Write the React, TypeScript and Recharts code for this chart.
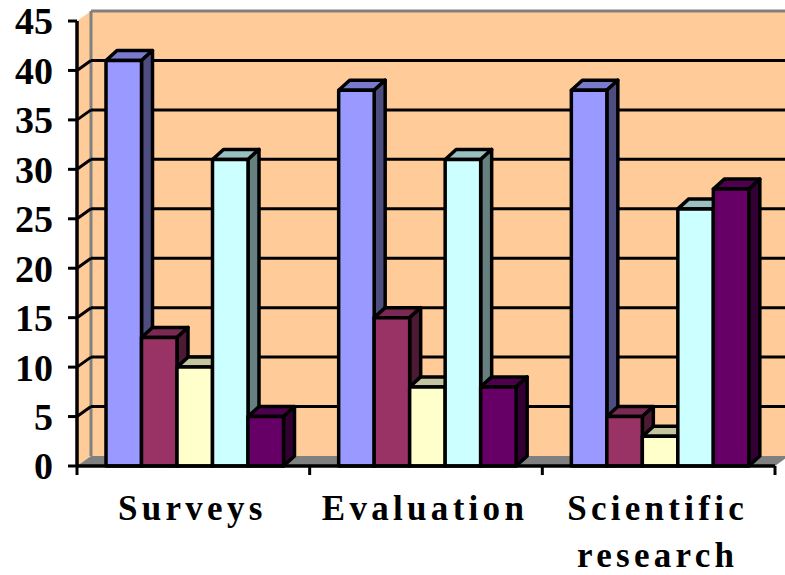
import React from "react";
import { BarChart, Bar, XAxis, YAxis, CartesianGrid } from "recharts";

const categories = ["Surveys", "Evaluation", "Scientific research"];
const seriesA = [41, 38, 38];
const seriesB = [13, 15, 5];
const seriesC = [10, 8, 3];
const seriesD = [31, 31, 26];
const seriesE = [5, 8, 28];
const yTicks = [0, 5, 10, 15, 20, 25, 30, 35, 40, 45];

const rows = categories.map((name, i) => ({
  name,
  a: seriesA[i],
  b: seriesB[i],
  c: seriesC[i],
  d: seriesD[i],
  e: seriesE[i],
}));

const DX = 11;
const DY = 10;
const WALL_DX = 14;
const WALL_DY = 10;
const BAND = 698 / 3;
const BAR_SHIFT = 1;
const FONT = '"Liberation Serif", "Times New Roman", serif';

const palette = [
  { key: "a", front: "#9999FF", top: "#7A7ACC", side: "#4D4D80" },
  { key: "b", front: "#993366", top: "#7A2952", side: "#4D1A33" },
  { key: "c", front: "#FFFFCC", top: "#C4C4A0", side: "#808066" },
  { key: "d", front: "#CCFFFF", top: "#99BFBF", side: "#668080" },
  { key: "e", front: "#660066", top: "#4D004D", side: "#330033" },
];

const makeBar = (top: string, side: string) => (props: any) => {
  const { x: rawX, y, width, height, fill } = props;
  const x = rawX + BAR_SHIFT;
  const r = x + width;
  const b = y + height;
  const common = { stroke: "#000", strokeWidth: 3.5, strokeLinejoin: "round" as const };
  return (
    <g>
      <polygon points={`${x},${y} ${x + DX},${y - DY} ${r + DX},${y - DY} ${r},${y}`} fill={top} {...common} />
      <polygon points={`${r},${y} ${r + DX},${y - DY} ${r + DX},${b - DY} ${r},${b}`} fill={side} {...common} />
      <rect x={x} y={y} width={width} height={height} fill={fill} {...common} />
    </g>
  );
};

const Room = ({ x, y, width, height }: any) => {
  const b = y + height;
  const r = x + width;
  return (
    <g>
      <polygon points={`${x},${y} ${x + WALL_DX},${y - WALL_DY} ${x + WALL_DX},${b - WALL_DY} ${x},${b}`} fill="#FFCC99" />
      <rect x={x + WALL_DX} y={y - WALL_DY} width={width + 10} height={height} fill="#FFCC99" />
      <polygon points={`${x},${b} ${x + WALL_DX},${b - WALL_DY} ${r + WALL_DX},${b - WALL_DY} ${r},${b}`} fill="#808080" />
      <line x1={x + WALL_DX} y1={y - WALL_DY} x2={x + WALL_DX} y2={b - WALL_DY} stroke="#808080" strokeWidth={3} />
      <line x1={x + WALL_DX} y1={y - WALL_DY} x2={r + 20} y2={y - WALL_DY} stroke="#808080" strokeWidth={3} />
    </g>
  );
};

const GridLine = (props: any) => {
  const { x1, y1, x2, index, x, y, width, height } = props;
  const isEdge = Math.abs(y1 - y) < 1 || Math.abs(y1 - (y + height)) < 1;
  return (
    <g>
      {index === 0 && <Room x={x} y={y} width={width} height={height} />}
      {!isEdge && (
        <g>
          <line x1={x1} y1={y1} x2={x1 + WALL_DX} y2={y1 - WALL_DY} stroke="#000" strokeWidth={3} />
          <line x1={x1 + WALL_DX} y1={y1 - WALL_DY} x2={x2 + 20} y2={y1 - WALL_DY} stroke="#000" strokeWidth={3} />
        </g>
      )}
    </g>
  );
};

const CategoryTick = (props: any) => {
  const { x, y, payload, index } = props;
  const words = String(payload.value).split(" ");
  const last = index === categories.length - 1;
  return (
    <g>
      <line x1={x - BAND / 2} y1={y - 8} x2={x - BAND / 2} y2={y + 1} stroke="#000" strokeWidth={3} />
      {last && <line x1={x + BAND / 2} y1={y - 8} x2={x + BAND / 2} y2={y + 1} stroke="#000" strokeWidth={3} />}
      <text
        x={x - 1}
        textAnchor="middle"
        fontFamily={FONT}
        fontWeight={700}
        fontSize={35}
        letterSpacing={4.3}
        fill="#000"
      >
        {words.map((w, i) => (
          <tspan key={w} x={x - 1} y={520 + i * 47}>
            {w}
          </tspan>
        ))}
      </text>
    </g>
  );
};

export default function App() {
  return (
    <div style={{ position: "absolute", left: 0, top: 0, width: 785, height: 575, overflow: "hidden", background: "#fff" }}>
      <BarChart
        width={785}
        height={575}
        data={rows}
        margin={{ top: 21, right: 10, bottom: 0, left: 0 }}
        barSize={35.5}
        barGap={0}
      >
        <CartesianGrid vertical={false} horizontal={(p: any) => <GridLine {...p} />} />
        {palette.map((s) => (
          <Bar key={s.key} dataKey={s.key} fill={s.front} isAnimationActive={false} shape={makeBar(s.top, s.side)} />
        ))}
        <XAxis
          dataKey="name"
          height={109}
          interval={0}
          tickLine={false}
          axisLine={{ stroke: "#000", strokeWidth: 3.5 }}
          tick={<CategoryTick />}
        />
        <YAxis
          width={77}
          domain={[0, 45]}
          ticks={yTicks}
          interval={0}
          tickSize={9}
          tickMargin={15}
          tickLine={{ stroke: "#000", strokeWidth: 3 }}
          axisLine={{ stroke: "#000", strokeWidth: 3.5 }}
          tick={{ fill: "#000", fontFamily: FONT, fontWeight: 700, fontSize: 38 }}
        />
      </BarChart>
    </div>
  );
}
